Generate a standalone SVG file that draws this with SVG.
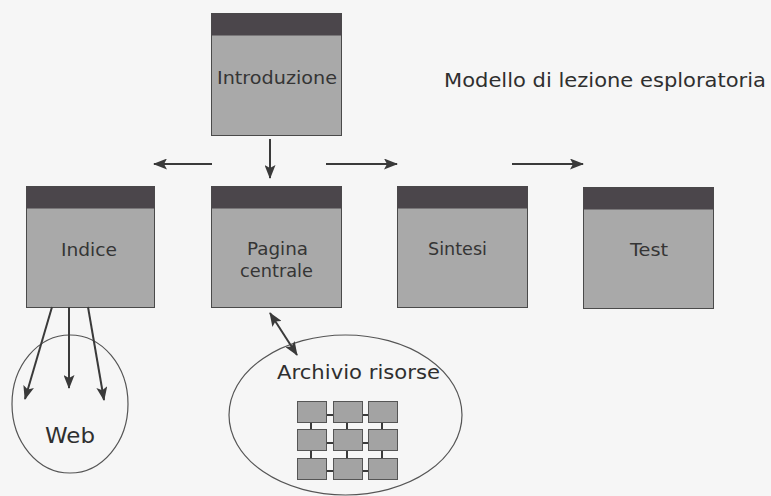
<svg xmlns="http://www.w3.org/2000/svg" width="771" height="496" viewBox="0 0 771 496">
  <style>
    .body { fill: #a9a9a9; stroke: #4a4a4a; stroke-width: 1; }
    .band { fill: #4b464b; }
    .lbl { font-family: "DejaVu Sans", Verdana, sans-serif; font-size: 17px; fill: #353535; text-anchor: middle; }
    .big { font-family: "DejaVu Sans", Verdana, sans-serif; fill: #2f2f2f; }
    .conn { stroke: #3a3a3a; stroke-width: 2; fill: none; }
    .oval { fill: none; stroke: #555; stroke-width: 1.2; }
    .cell { fill: #a3a3a3; stroke: #555; stroke-width: 1; }
    .link { stroke: #3a3a3a; stroke-width: 2; }
  </style>
  <defs>
    <marker id="head" viewBox="0 0 14 11" refX="13" refY="5.5" markerWidth="14" markerHeight="11" markerUnits="userSpaceOnUse" orient="auto-start-reverse">
      <path d="M0,0 L14,5.5 L0,11 L3,5.5 z" fill="#3a3a3a"/>
    </marker>
  </defs>

  <rect width="771" height="496" fill="#f6f6f6"/>

  <text class="big" x="444" y="87" font-size="19.5" textLength="322" lengthAdjust="spacingAndGlyphs">Modello di lezione esploratoria</text>

  <g id="introduzione">
    <rect class="body" x="211.5" y="13.5" width="130" height="122"/>
    <rect class="band" x="211.5" y="13.5" width="130" height="22"/>
    <text class="lbl" x="277" y="84" textLength="120" lengthAdjust="spacingAndGlyphs">Introduzione</text>
  </g>

  <g id="indice">
    <rect class="body" x="26.5" y="186.5" width="128" height="121"/>
    <rect class="band" x="26.5" y="186.5" width="128" height="22"/>
    <text class="lbl" x="89" y="256" textLength="56" lengthAdjust="spacingAndGlyphs">Indice</text>
  </g>

  <g id="pagina-centrale">
    <rect class="body" x="211.5" y="186.5" width="130" height="121"/>
    <rect class="band" x="211.5" y="186.5" width="130" height="22"/>
    <text class="lbl" x="277.5" y="255" textLength="61" lengthAdjust="spacingAndGlyphs">Pagina</text>
    <text class="lbl" x="276.5" y="277" textLength="73" lengthAdjust="spacingAndGlyphs">centrale</text>
  </g>

  <g id="sintesi">
    <rect class="body" x="397.5" y="186.5" width="130" height="121"/>
    <rect class="band" x="397.5" y="186.5" width="130" height="22"/>
    <text class="lbl" x="457.5" y="255" textLength="59" lengthAdjust="spacingAndGlyphs">Sintesi</text>
  </g>

  <g id="test">
    <rect class="body" x="583.5" y="187.5" width="130" height="121"/>
    <rect class="band" x="583.5" y="187.5" width="130" height="22"/>
    <text class="lbl" x="649" y="256" textLength="38" lengthAdjust="spacingAndGlyphs">Test</text>
  </g>

  <g id="web">
    <ellipse class="oval" cx="70" cy="404" rx="58" ry="69"/>
    <text class="big" x="45" y="443" font-size="21" textLength="50" lengthAdjust="spacingAndGlyphs">Web</text>
  </g>

  <g id="archivio-risorse">
    <ellipse class="oval" cx="345.5" cy="415" rx="116.5" ry="80"/>
    <text class="big" x="277" y="379" font-size="19.5" textLength="163" lengthAdjust="spacingAndGlyphs">Archivio risorse</text>
    <g id="griglia">
      <!-- links between neighbouring cells -->
      <line class="link" x1="327" y1="415" x2="333" y2="415"/>
      <line class="link" x1="362" y1="415" x2="368" y2="415"/>
      <line class="link" x1="327" y1="443" x2="333" y2="443"/>
      <line class="link" x1="362" y1="443" x2="368" y2="443"/>
      <line class="link" x1="327" y1="471" x2="333" y2="471"/>
      <line class="link" x1="362" y1="471" x2="368" y2="471"/>
      <line class="link" x1="311" y1="422" x2="311" y2="429"/>
      <line class="link" x1="347" y1="422" x2="347" y2="429"/>
      <line class="link" x1="382" y1="422" x2="382" y2="429"/>
      <line class="link" x1="311" y1="451" x2="311" y2="458"/>
      <line class="link" x1="347" y1="451" x2="347" y2="458"/>
      <line class="link" x1="382" y1="451" x2="382" y2="458"/>
      <!-- cells -->
      <rect class="cell" x="297.5" y="401.5" width="29" height="21"/>
      <rect class="cell" x="333.5" y="401.5" width="29" height="21"/>
      <rect class="cell" x="368.5" y="401.5" width="29" height="21"/>
      <rect class="cell" x="297.5" y="429.5" width="29" height="21"/>
      <rect class="cell" x="333.5" y="429.5" width="29" height="21"/>
      <rect class="cell" x="368.5" y="429.5" width="29" height="21"/>
      <rect class="cell" x="297.5" y="458.5" width="29" height="21"/>
      <rect class="cell" x="333.5" y="458.5" width="29" height="21"/>
      <rect class="cell" x="368.5" y="458.5" width="29" height="21"/>
    </g>
  </g>

  <g id="connectors">
    <line class="conn" x1="212" y1="164" x2="154" y2="164" marker-end="url(#head)"/>
    <line class="conn" x1="270" y1="139" x2="270" y2="178" marker-end="url(#head)"/>
    <line class="conn" x1="326" y1="164" x2="397" y2="164" marker-end="url(#head)"/>
    <line class="conn" x1="512" y1="164" x2="583" y2="164" marker-end="url(#head)"/>
    <line class="conn" x1="52" y1="307" x2="25" y2="399" stroke-width="2.5" marker-end="url(#head)"/>
    <line class="conn" x1="69" y1="307" x2="69" y2="388" stroke-width="1.5" marker-end="url(#head)"/>
    <line class="conn" x1="88" y1="307" x2="104" y2="400" stroke-width="1.5" marker-end="url(#head)"/>
    <line class="conn" x1="270" y1="313" x2="297" y2="355" marker-start="url(#head)" marker-end="url(#head)"/>
  </g>
</svg>
